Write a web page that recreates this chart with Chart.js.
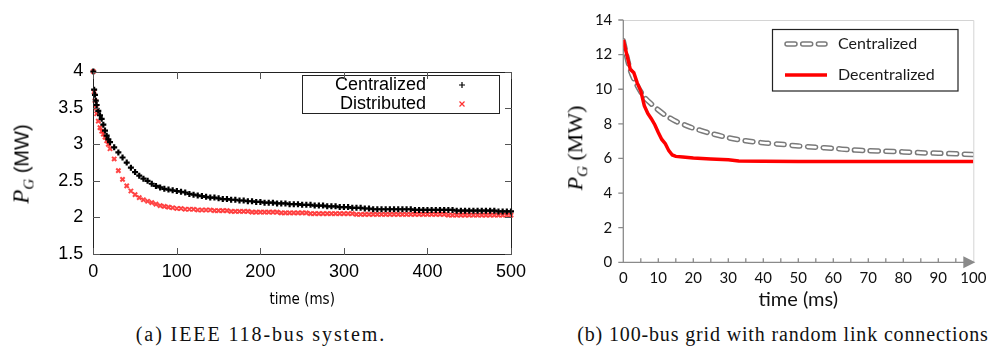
<!DOCTYPE html>
<html>
<head>
<meta charset="utf-8">
<script src="https://cdn.jsdelivr.net/npm/chart.js"></script>
<style>
  body { margin: 0; background: #fff; width: 992px; height: 352px; position: relative; overflow: hidden; }
  #cA { position: absolute; left: 0; top: 0; }
  #cB { position: absolute; left: 540px; top: 0; }
  .ytitle { position: absolute; white-space: nowrap; transform: translate(-50%, -50%) rotate(-90deg); color: #000; }
  .cap { position: absolute; white-space: nowrap; transform: translateX(-50%); font-family: "Liberation Serif", serif; font-size: 20px; letter-spacing: 0.85px; color: #111; }
  .fr { position: absolute; pointer-events: none; }
</style>
</head>
<body>
<canvas id="cA" width="530" height="320"></canvas>
<canvas id="cB" width="452" height="320"></canvas>

<div class="ytitle" style="left:23px; top:164px; font-family:'Liberation Sans', sans-serif; font-size:20px;">
  <span style="font-family:'Liberation Serif', serif; font-style:italic; font-size:23px;">P</span><sub style="font-family:'Liberation Serif', serif; font-style:italic; font-size:15px;">G</sub> (MW)
</div>
<div class="ytitle" style="left:577px; top:148px; font-family:'Liberation Serif', serif; font-size:22px;">
  <span style="font-style:italic;">P</span><sub style="font-style:italic; font-size:15px;">G</sub> (MW)
</div>

<div class="cap" style="left:261px; top:323px; letter-spacing:1.9px;">(a) IEEE 118-bus system.</div>
<div class="cap" style="left:783px; top:323px;">(b) 100-bus grid with random link connections</div>

<script>
// (a) IEEE 118-bus system
const timeA = [0, 1, 2, 3, 4, 6, 8, 10, 12, 14, 16, 18, 20,
  25, 30, 35, 40, 45, 50, 55, 60, 65, 70, 75, 80, 85, 90, 95, 100,
  105, 110, 115, 120, 125, 130, 135, 140, 145, 150, 155, 160, 165, 170, 175, 180, 185, 190, 195, 200,
  205, 210, 215, 220, 225, 230, 235, 240, 245, 250, 255, 260, 265, 270, 275, 280, 285, 290, 295, 300,
  305, 310, 315, 320, 325, 330, 335, 340, 345, 350, 355, 360, 365, 370, 375, 380, 385, 390, 395, 400,
  405, 410, 415, 420, 425, 430, 435, 440, 445, 450, 455, 460, 465, 470, 475, 480, 485, 490, 495, 500];

const centralizedA = [4.00, 3.75, 3.68, 3.60, 3.54, 3.46, 3.40, 3.35, 3.27, 3.19, 3.12, 3.07, 3.03,
  2.96, 2.89, 2.82, 2.75, 2.68, 2.62, 2.57, 2.53, 2.50, 2.46, 2.43, 2.41, 2.39, 2.38, 2.37, 2.36,
  2.35, 2.34, 2.32, 2.31, 2.30, 2.29, 2.28, 2.27, 2.27, 2.26, 2.25, 2.25, 2.24, 2.24, 2.23, 2.23, 2.22, 2.22, 2.21, 2.21,
  2.20, 2.20, 2.20, 2.19, 2.19, 2.19, 2.18, 2.18, 2.18, 2.17, 2.17, 2.17, 2.16, 2.16, 2.16, 2.15, 2.15, 2.15, 2.14, 2.14,
  2.14, 2.13, 2.13, 2.13, 2.12, 2.12, 2.11, 2.11, 2.11, 2.11, 2.11, 2.11, 2.11, 2.11, 2.11, 2.11, 2.10, 2.10, 2.10, 2.10,
  2.10, 2.10, 2.10, 2.10, 2.10, 2.10, 2.09, 2.09, 2.09, 2.09, 2.09, 2.09, 2.09, 2.09, 2.09, 2.09, 2.08, 2.08, 2.08, 2.08];

const distributedA = [4.00, 3.72, 3.60, 3.50, 3.42, 3.32, 3.23, 3.18, 3.14, 3.10, 3.05, 3.00, 2.94,
  2.80, 2.64, 2.52, 2.43, 2.36, 2.31, 2.27, 2.24, 2.22, 2.20, 2.18, 2.16, 2.15, 2.14, 2.13, 2.12,
  2.12, 2.11, 2.11, 2.11, 2.10, 2.10, 2.10, 2.10, 2.09, 2.09, 2.09, 2.09, 2.08, 2.08, 2.08, 2.08, 2.08, 2.07, 2.07, 2.07,
  2.07, 2.07, 2.07, 2.07, 2.06, 2.06, 2.06, 2.06, 2.06, 2.06, 2.06, 2.05, 2.05, 2.05, 2.05, 2.05, 2.05, 2.05, 2.05, 2.05,
  2.05, 2.05, 2.04, 2.04, 2.04, 2.04, 2.04, 2.04, 2.04, 2.04, 2.04, 2.04, 2.04, 2.04, 2.04, 2.04, 2.04, 2.04, 2.04, 2.04,
  2.04, 2.04, 2.04, 2.04, 2.03, 2.03, 2.03, 2.03, 2.03, 2.03, 2.03, 2.03, 2.03, 2.03, 2.03, 2.03, 2.03, 2.03, 2.03, 2.03];

const yTicksA = [1.5, 2, 2.5, 3, 3.5, 4];
const xTicksA = [0, 100, 200, 300, 400, 500];

// (b) 100-bus grid
const timeCenB = [0, 2, 4, 6, 8, 10, 12, 15, 18, 20, 25, 30, 35, 40, 45, 50, 55, 60, 65, 70, 75, 80, 85, 90, 95, 100];
const centralizedB = [12.8, 11.1, 10.2, 9.55, 9.15, 8.8, 8.5, 8.15, 7.9, 7.75, 7.45, 7.2, 7.02, 6.9, 6.82, 6.72,
  6.65, 6.58, 6.5, 6.45, 6.42, 6.38, 6.33, 6.3, 6.27, 6.22];
const timeDecB = [0, 1, 2, 3, 4, 5, 6, 7, 8, 9, 10, 11, 12, 13, 14, 15, 17, 20, 25, 30, 33, 40, 50, 60, 70, 80, 90, 100];
const decentralizedB = [12.85, 12.0, 11.15, 10.95, 10.35, 9.9, 9.05, 8.6, 8.3, 7.95, 7.5, 7.1, 6.85, 6.45, 6.2, 6.12,
  6.08, 6.02, 5.97, 5.93, 5.86, 5.84, 5.82, 5.82, 5.82, 5.82, 5.82, 5.82];

const yTicksB = [0, 2, 4, 6, 8, 10, 12, 14];
const xTicksB = [0, 10, 20, 30, 40, 50, 60, 70, 80, 90, 100];
const xMinorB = [0, 5, 10, 15, 20, 25, 30, 35, 40, 45, 50, 55, 60, 65, 70, 75, 80, 85, 90, 95];

const pts = (xs, ys) => xs.map((x, i) => ({ x: x, y: ys[i] }));

// gnuplot legend box
const legendA = {
  id: 'legendA',
  afterDraw(chart) {
    const ctx = chart.ctx;
    ctx.save();
    ctx.lineWidth = 1;
    ctx.strokeStyle = '#222';
    ctx.strokeRect(302.5, 75.5, 197, 38);
    ctx.font = '18px "Liberation Sans", Arial, sans-serif';
    ctx.fillStyle = '#000';
    ctx.textAlign = 'right';
    ctx.textBaseline = 'middle';
    ctx.fillText('Centralized', 426, 85);
    ctx.fillText('Distributed', 426, 104);
    ctx.lineWidth = 1.2;
    ctx.strokeStyle = '#000';
    ctx.beginPath();
    ctx.moveTo(459, 85); ctx.lineTo(465, 85);
    ctx.moveTo(462, 82); ctx.lineTo(462, 88);
    ctx.stroke();
    ctx.strokeStyle = '#ff3030';
    ctx.beginPath();
    ctx.moveTo(459.5, 101.5); ctx.lineTo(464.5, 106.5);
    ctx.moveTo(464.5, 101.5); ctx.lineTo(459.5, 106.5);
    ctx.stroke();
    ctx.restore();
  }
};

const sansA = '"Liberation Sans", Arial, sans-serif';

const chartA = new Chart(document.getElementById('cA').getContext('2d'), {
  type: 'scatter',
  data: {
    datasets: [{
      label: 'Centralized',
      data: pts(timeA, centralizedA),
      pointStyle: 'cross',
      pointRadius: 3,
      pointBorderWidth: 2.2,
      borderColor: '#000',
      backgroundColor: '#000',
      showLine: false,
      clip: false
    }, {
      label: 'Distributed',
      data: pts(timeA, distributedA),
      pointStyle: 'crossRot',
      pointRadius: 3,
      pointBorderWidth: 2,
      borderColor: 'rgba(255,35,35,0.85)',
      backgroundColor: 'rgba(255,35,35,0.85)',
      showLine: false,
      clip: false
    }]
  },
  options: {
    responsive: false,
    animation: false,
    layout: { padding: { left: 0, top: 71.5, right: 19, bottom: 0 } },
    plugins: { legend: { display: false }, tooltip: { enabled: false } },
    scales: {
      x: {
        type: 'linear', min: 0, max: 500,
        afterBuildTicks: s => { s.ticks = xTicksA.map(v => ({ value: v })); },
        afterFit: s => { s.height = 66.3; s.paddingLeft = 0; s.paddingRight = 0; },
        grid: { display: false, drawTicks: false, tickLength: 0 },
        border: { display: false },
        ticks: { padding: 8, color: '#000', callback: v => String(v), font: { family: sansA, size: 18 } },
        title: { display: true, text: 'time (ms)', color: '#000', padding: { top: 0, bottom: 11 },
          font: { family: '"DejaVu Sans Condensed", "Liberation Sans Narrow", sans-serif', size: 15 } }
      },
      y: {
        type: 'linear', min: 1.5, max: 4,
        afterBuildTicks: s => { s.ticks = yTicksA.map(v => ({ value: v })); },
        afterFit: s => { s.width = 93.3; s.paddingTop = 0; s.paddingBottom = 0; },
        grid: { display: false, drawTicks: false, tickLength: 0 },
        border: { display: false },
        ticks: { padding: 10, color: '#000', callback: v => String(v), font: { family: sansA, size: 18 } }
      }
    }
  },
  plugins: [legendA]
});

// frame and inward mirror ticks of panel (a), placed from the chart's own scales
(function () {
  const ca = chartA.chartArea, sx = chartA.scales.x, sy = chartA.scales.y;
  const L = Math.round(ca.left), T = Math.round(ca.top), R = Math.round(ca.right), B = Math.round(ca.bottom);
  const box = (x, y, w, h, color) => {
    const d = document.createElement('div');
    d.className = 'fr';
    d.style.left = x + 'px'; d.style.top = y + 'px';
    d.style.width = w + 'px'; d.style.height = h + 'px';
    d.style.background = color;
    document.body.appendChild(d);
  };
  box(L, T, R - L + 1, 1, '#222');
  box(L, B, R - L + 1, 1, '#222');
  box(L, T, 1, B - T + 1, '#222');
  box(R, T, 1, B - T + 1, '#222');
  yTicksA.forEach(v => {
    const py = Math.round(sy.getPixelForValue(v));
    box(L, py, 7, 1, '#555');
    box(R - 6, py, 7, 1, '#555');
  });
  xTicksA.forEach(v => {
    const px = Math.round(sx.getPixelForValue(v));
    box(px, B - 6, 1, 7, '#555');
    box(px, T, 1, 7, '#555');
  });
})();

// excel style axes, arrow and legend
function dashPair(ctx, x0, x1, yy) {
  ctx.setLineDash([8, 7.7]);
  ctx.lineCap = 'round';
  ctx.strokeStyle = '#7a7a7a';
  ctx.lineWidth = 5.5;
  ctx.beginPath(); ctx.moveTo(x0, yy); ctx.lineTo(x1, yy); ctx.stroke();
  ctx.strokeStyle = '#fff';
  ctx.lineWidth = 2.5;
  ctx.beginPath(); ctx.moveTo(x0, yy); ctx.lineTo(x1, yy); ctx.stroke();
  ctx.setLineDash([]);
}

const frameB = {
  id: 'frameB',
  beforeDatasetsDraw(chart) {
    const { ctx, chartArea: a, scales: { x, y } } = chart;
    ctx.save();
    ctx.strokeStyle = '#d4d4d4';
    ctx.lineWidth = 1;
    ctx.beginPath();
    ctx.moveTo(a.left, a.top + 0.5); ctx.lineTo(a.right + 0.5, a.top + 0.5); ctx.lineTo(a.right + 0.5, a.bottom);
    ctx.stroke();
    ctx.strokeStyle = '#8a8a8a';
    ctx.lineWidth = 1.3;
    ctx.beginPath();
    ctx.moveTo(a.left, a.top); ctx.lineTo(a.left, a.bottom); ctx.lineTo(a.right - 6, a.bottom);
    yTicksB.forEach(v => {
      const py = y.getPixelForValue(v);
      ctx.moveTo(a.left - 5, py); ctx.lineTo(a.left, py);
    });
    xMinorB.forEach(v => {
      const px = x.getPixelForValue(v);
      ctx.moveTo(px, a.bottom); ctx.lineTo(px, a.bottom - 4);
    });
    ctx.stroke();
    ctx.fillStyle = '#8a8a8a';
    ctx.beginPath();
    ctx.moveTo(a.right - 10, a.bottom - 6);
    ctx.lineTo(a.right + 2, a.bottom);
    ctx.lineTo(a.right - 10, a.bottom + 6);
    ctx.closePath();
    ctx.fill();
    ctx.restore();
  },
  afterDraw(chart) {
    const ctx = chart.ctx;
    ctx.save();
    ctx.strokeStyle = '#222';
    ctx.lineWidth = 1.2;
    ctx.strokeRect(232.5, 29.5, 185.5, 61.5);
    dashPair(ctx, 247, 285, 44);
    ctx.strokeStyle = '#ff0000';
    ctx.lineWidth = 3.5;
    ctx.lineCap = 'butt';
    ctx.beginPath(); ctx.moveTo(245, 75); ctx.lineTo(287, 75); ctx.stroke();
    ctx.font = '16px Lato, sans-serif';
    ctx.fillStyle = '#1a1a1a';
    ctx.textAlign = 'left';
    ctx.textBaseline = 'middle';
    ctx.fillText('Centralized', 298, 44);
    ctx.fillText('Decentralized', 298, 75);
    ctx.restore();
  }
};

new Chart(document.getElementById('cB').getContext('2d'), {
  type: 'line',
  data: {
    datasets: [{
      label: 'Decentralized',
      data: pts(timeDecB, decentralizedB),
      borderColor: '#ff0000',
      borderWidth: 3.5,
      pointRadius: 0,
      tension: 0,
      order: 0
    }, {
      label: 'Centralized',
      data: pts(timeCenB, centralizedB),
      borderColor: '#fff',
      borderWidth: 2.5,
      borderDash: [8, 7.7],
      borderCapStyle: 'round',
      pointRadius: 0,
      tension: 0.3,
      order: 1
    }, {
      label: 'Centralized (outline)',
      data: pts(timeCenB, centralizedB),
      borderColor: '#7a7a7a',
      borderWidth: 5.5,
      borderDash: [8, 7.7],
      borderCapStyle: 'round',
      pointRadius: 0,
      tension: 0.3,
      order: 2
    }]
  },
  options: {
    responsive: false,
    animation: false,
    layout: { padding: { left: 0, top: 20, right: 18.7, bottom: 0 } },
    plugins: { legend: { display: false }, tooltip: { enabled: false } },
    scales: {
      x: {
        type: 'linear', min: 0, max: 100,
        afterBuildTicks: s => { s.ticks = xTicksB.map(v => ({ value: v })); },
        afterFit: s => { s.height = 57.7; s.paddingLeft = 0; s.paddingRight = 0; },
        grid: { display: false, drawTicks: false, tickLength: 0 },
        border: { display: false },
        ticks: { padding: 6.7, color: '#111', font: { family: 'Lato, sans-serif', size: 15 } },
        title: { display: true, text: 'time (ms)', color: '#111', padding: { top: 0, bottom: 8 },
          font: { family: 'Lato, sans-serif', size: 20 } }
      },
      y: {
        type: 'linear', min: 0, max: 14,
        afterBuildTicks: s => { s.ticks = yTicksB.map(v => ({ value: v })); },
        afterFit: s => { s.width = 83.3; s.paddingTop = 0; s.paddingBottom = 0; },
        grid: { display: false, drawTicks: false, tickLength: 0 },
        border: { display: false },
        ticks: { padding: 11, color: '#111', font: { family: 'Lato, sans-serif', size: 15 } }
      }
    }
  },
  plugins: [frameB]
});
</script>
</body>
</html>
